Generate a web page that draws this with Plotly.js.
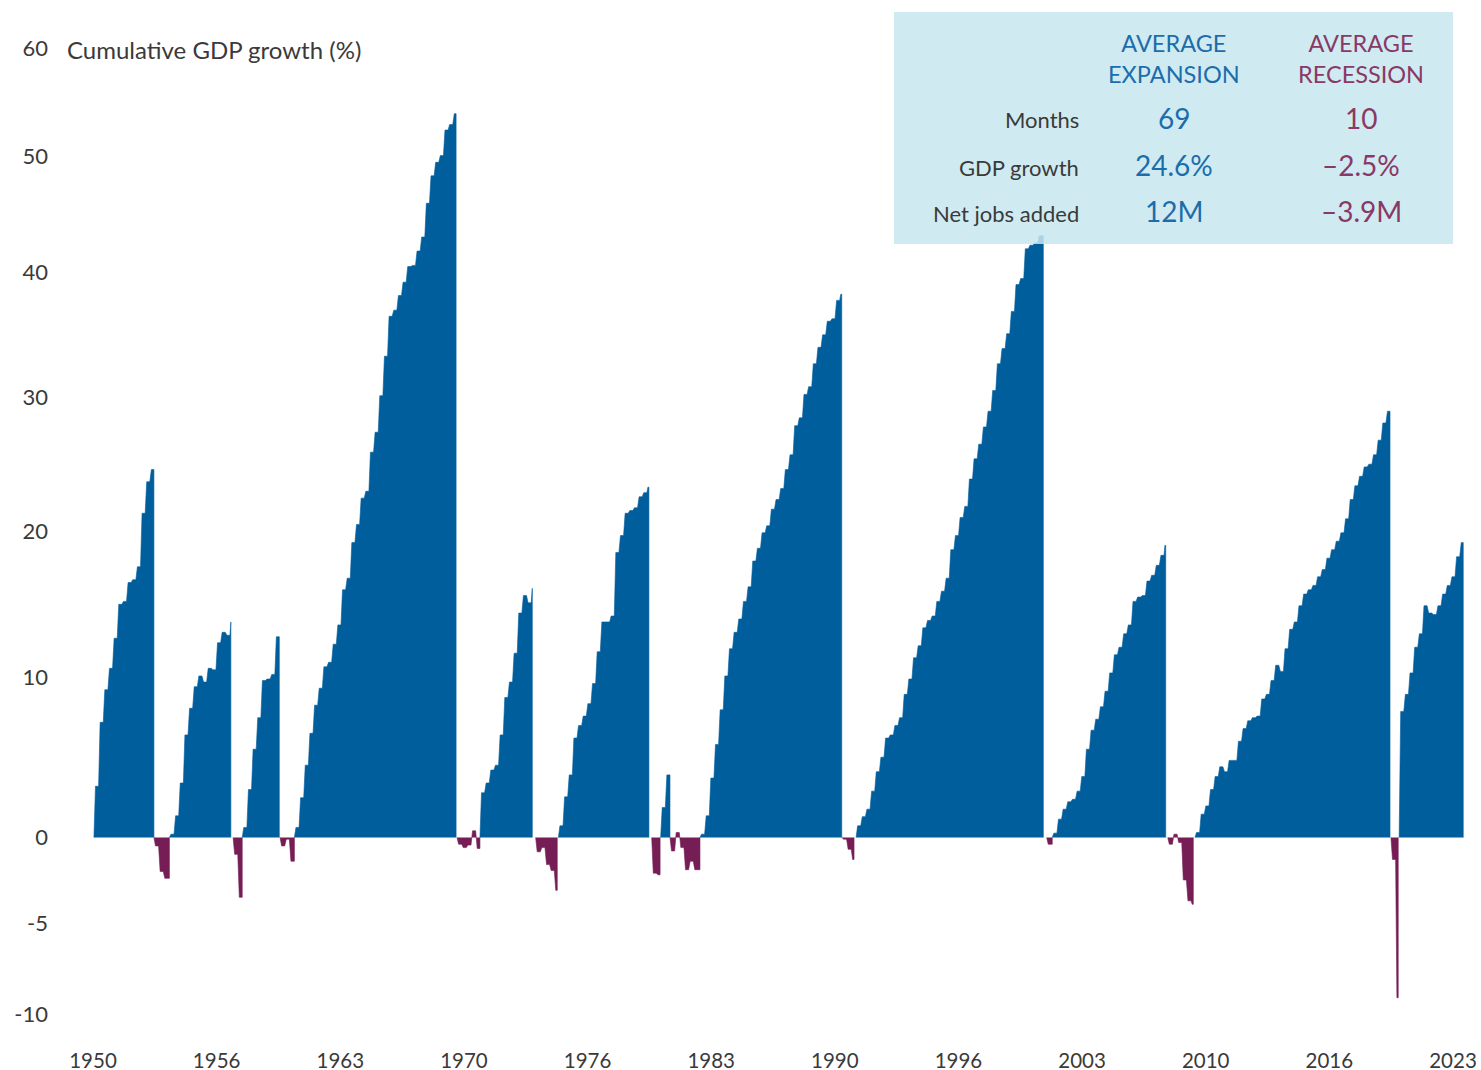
<!DOCTYPE html>
<html><head><meta charset="utf-8">
<script src="https://cdn.plot.ly/plotly-3.0.1.min.js"></script>
<style>html,body{margin:0;padding:0;background:#fff}</style>
</head><body><div id="chart" style="width:1481px;height:1070px"></div>
<script>
// Quarterly cumulative GDP growth (%) within each expansion / recession
const exp1950 = [3.1, 7.1, 9.2, 10.6, 12.6, 14.9, 15.1, 16.4, 16.6, 17.5, 21.3, 23.6, 24.5];
const rec1953 = [-0.5, -2.0, -2.4];
const exp1954 = [0.2, 1.3, 3.3, 6.3, 8.0, 9.4, 10.1, 9.7, 10.6, 10.5, 12.3, 13.0, 12.8, 13.7];
const rec1957 = [-1.0, -3.5];
const exp1958 = [0.6, 2.9, 5.4, 7.4, 9.8, 9.9, 10.2, 12.7];
const rec1960 = [-0.5, -0.1, -1.4];
const exp1961 = [0.6, 2.4, 4.4, 6.4, 8.2, 9.3, 10.7, 11.0, 12.2, 13.5, 15.9, 16.7, 19.2, 20.5, 22.4, 22.9, 25.8, 27.3, 30.1, 33.2, 36.4, 36.9, 38.1, 39.2, 40.5, 40.6, 41.8, 43.0, 45.9, 48.3, 49.5, 50.1, 52.4, 52.9, 53.9];
const rec1969 = [-0.4, -0.6, -0.45, 0.4, -0.65];
const exp1970 = [2.7, 3.3, 4.1, 4.4, 6.3, 8.7, 9.7, 11.6, 14.3, 15.5, 15.0, 16.0];
const rec1973 = [-0.85, -0.6, -1.6, -1.95, -3.1];
const exp1975 = [0.7, 2.45, 3.8, 6.1, 6.9, 7.5, 8.3, 9.6, 11.7, 13.7, 13.7, 14.1, 18.5, 19.7, 21.3, 21.5, 21.7, 22.5, 22.8, 23.2];
const rec1980 = [-2.1, -2.2];
const exp1980 = [1.8, 3.8];
const rec1981 = [-0.8, 0.3, -0.6, -1.9, -1.4, -1.9];
const exp1982 = [0.2, 1.3, 3.6, 5.7, 7.9, 10.1, 11.9, 13.0, 13.9, 15.1, 16.1, 17.9, 18.8, 19.9, 20.4, 21.6, 22.3, 23.1, 24.5, 25.6, 27.8, 28.4, 30.2, 30.8, 32.6, 33.9, 34.9, 36.0, 36.2, 37.7, 38.2];
const rec1990 = [-0.1, -0.7, -1.3];
const exp1991 = [0.7, 1.25, 1.7, 2.8, 4.0, 4.9, 6.1, 6.3, 6.9, 7.4, 8.9, 9.9, 11.3, 12.1, 13.3, 13.8, 14.1, 15.1, 15.8, 16.7, 18.7, 19.7, 21.0, 21.8, 23.8, 25.3, 26.4, 27.7, 28.9, 30.5, 32.6, 33.8, 35.0, 36.8, 39.0, 39.5, 42.0, 42.3, 42.5, 43.1];
const rec2001 = [-0.4];
const exp2001 = [0.26, 1.1, 1.7, 2.15, 2.3, 2.8, 3.7, 5.4, 6.6, 7.3, 8.1, 9.1, 10.3, 11.5, 12.0, 12.9, 13.5, 15.1, 15.4, 15.5, 16.5, 16.9, 17.6, 18.3, 19.0];
const rec2007 = [-0.4, 0.2, -0.3, -2.5, -3.7, -3.9];
const exp2009 = [0.3, 1.4, 1.9, 2.9, 3.7, 4.3, 4.0, 4.7, 4.7, 5.9, 6.7, 7.2, 7.4, 7.5, 8.6, 8.9, 9.8, 10.8, 10.4, 11.9, 13.2, 13.7, 14.8, 15.6, 15.9, 16.2, 16.8, 17.3, 18.1, 18.7, 19.3, 19.9, 20.9, 22.3, 23.3, 24.0, 24.7, 24.9, 25.6, 26.7, 28.0, 28.9];
const rec2020 = [-1.3, -9.1];
const exp2020 = [7.8, 8.9, 10.3, 12.0, 12.9, 14.8, 14.3, 14.2, 14.8, 15.6, 16.2, 16.8, 18.2, 19.2];

// Period list: series, type, start and end (decimal years on the chart's time axis)
const periodSeries = [exp1950, rec1953, exp1954, rec1957, exp1958, rec1960, exp1961, rec1969, exp1970, rec1973, exp1975, rec1980, exp1980, rec1981, exp1982, rec1990, exp1991, rec2001, exp2001, rec2007, exp2009, rec2020, exp2020];
const periodType = ['E','R','E','R','E','R','E','R','E','R','E','R','E','R','E','R','E','R','E','R','E','R','E'];
const periodStart = [1950.05, 1953.27, 1954.10, 1957.52, 1958.01, 1960.04, 1960.81, 1969.54, 1970.77, 1973.76, 1974.98, 1979.99, 1980.47, 1980.97, 1982.58, 1990.20, 1990.96, 2001.19, 2001.49, 2007.69, 2009.15, 2019.67, 2020.11];
const periodEnd   = [1953.27, 1954.10, 1957.40, 1958.01, 1960.00, 1960.81, 1969.49, 1970.77, 1973.58, 1974.92, 1979.84, 1980.44, 1980.97, 1982.58, 1990.19, 1990.85, 2001.01, 2001.49, 2007.58, 2009.06, 2019.62, 2020.06, 2023.55];

// Axis labels
const xTickLabels = ['1950','1956','1963','1970','1976','1983','1990','1996','2003','2010','2016','2023'];
const yTickValues = [-10, -5, 0, 10, 20, 30, 40, 50, 60];
const yTickLabels = ['-10','-5','0','10','20','30','40','50','60'];
const yAxisTitle = 'Cumulative GDP growth (%)';

// Summary table
const tableHeaders = ['AVERAGE<br>EXPANSION', 'AVERAGE<br>RECESSION'];
const tableRows = ['Months', 'GDP growth', 'Net jobs added'];
const expansionStats = ['69', '24.6%', '12M'];
const recessionStats = ['10', '\u20132.5%', '\u20133.9M'];

// ---------- drawing ----------
const BLUE = '#005e9c', PURPLE = '#761d56';
const TXT_BLUE = '#1c6dab', TXT_PURPLE = '#8a3866', TXT = '#3a3a3a';
const FONT = 'Lato, "Open Sans", sans-serif';
const W = 1481, H = 1070;
const M = {l: 49, r: 10, t: 30, b: 30};
const plotW = W - M.l - M.r, plotH = H - M.t - M.b;
const pxPerYear = 18.63, x1950px = 93;
const xRange = [1950 + (M.l - x1950px) / pxPerYear, 1950 + (W - M.r - x1950px) / pxPerYear];
const zeroPx = 837.5, kLog10 = 3866;
const yRange = [2 - (H - M.b - zeroPx) / kLog10, 2 + (zeroPx - M.t) / kLog10];
const px2x = p => (p - M.l) / plotW;
const py2y = p => (H - M.b - p) / plotH;

const Q = 0.25, RAMP = 1 / 12;
const traces = periodSeries.map((vals, k) => {
  const s = periodStart[k], e = periodEnd[k];
  const xs = [s], ys = [100];
  vals.forEach((v, i) => {
    const x0 = s + i * Q;
    const x1 = (i === vals.length - 1) ? e : x0 + Q;
    const ramp = Math.min(RAMP, (x1 - x0) / 2);
    xs.push(x0 + ramp, x1);
    ys.push(100 + v, 100 + v);
  });
  xs.push(e); ys.push(100);
  const c = periodType[k] === 'E' ? BLUE : PURPLE;
  return {type: 'scatter', mode: 'lines', x: xs, y: ys, fill: 'toself', fillcolor: c,
          line: {color: c, width: 0.6}, hoverinfo: 'skip', showlegend: false};
});

const nT = xTickLabels.length;
const xTickVals = xTickLabels.map((_, i) => 1950 + i * (2023 - 1950) / (nT - 1));

const ann = [];
ann.push({xref: 'paper', yref: 'paper', x: px2x(65), y: py2y(49), xanchor: 'left', yanchor: 'middle',
          text: yAxisTitle, showarrow: false, font: {family: FONT, size: 24, color: TXT}});
const colX = [1174, 1361];
const colColor = [TXT_BLUE, TXT_PURPLE];
tableHeaders.forEach((h, j) => ann.push({xref: 'paper', yref: 'paper', x: px2x(colX[j]), y: py2y(58),
  xanchor: 'center', yanchor: 'middle', text: h, showarrow: false,
  font: {family: FONT, size: 23.5, color: colColor[j]}}));
const rowY = [118, 165, 211];
tableRows.forEach((r, i) => {
  ann.push({xref: 'paper', yref: 'paper', x: px2x(1081), y: py2y(rowY[i] + 2), xanchor: 'right', yanchor: 'middle',
            text: r, showarrow: false, font: {family: FONT, size: 22, color: TXT}});
  ann.push({xref: 'paper', yref: 'paper', x: px2x(colX[0]), y: py2y(rowY[i]), xanchor: 'center', yanchor: 'middle',
            text: expansionStats[i], showarrow: false, font: {family: FONT, size: 28, color: TXT_BLUE}});
  ann.push({xref: 'paper', yref: 'paper', x: px2x(colX[1]), y: py2y(rowY[i]), xanchor: 'center', yanchor: 'middle',
            text: recessionStats[i], showarrow: false, font: {family: FONT, size: 28, color: TXT_PURPLE}});
});

const layout = {
  width: W, height: H, margin: M, paper_bgcolor: '#fff', plot_bgcolor: '#fff',
  font: {family: FONT, size: 21, color: TXT},
  showlegend: false, hovermode: false,
  xaxis: {type: 'linear', range: xRange, tickmode: 'array', tickvals: xTickVals, ticktext: xTickLabels,
          showgrid: false, zeroline: false, showline: false, ticks: '', ticklabelstandoff: 6,
          tickfont: {family: FONT, size: 20.5, color: TXT}},
  yaxis: {type: 'log', range: yRange, tickmode: 'array', tickvals: yTickValues.map(v => 100 + v), ticktext: yTickLabels,
          showgrid: false, zeroline: false, showline: false, ticks: '',
          tickfont: {family: FONT, size: 22, color: TXT}},
  shapes: [{type: 'rect', xref: 'paper', yref: 'paper', layer: 'above',
            x0: px2x(894), x1: px2x(1453), y0: py2y(244), y1: py2y(12),
            fillcolor: 'rgba(199,232,239,0.86)', line: {width: 0}}],
  annotations: ann
};
Plotly.newPlot('chart', traces, layout, {staticPlot: true, displayModeBar: false});
</script></body></html>
